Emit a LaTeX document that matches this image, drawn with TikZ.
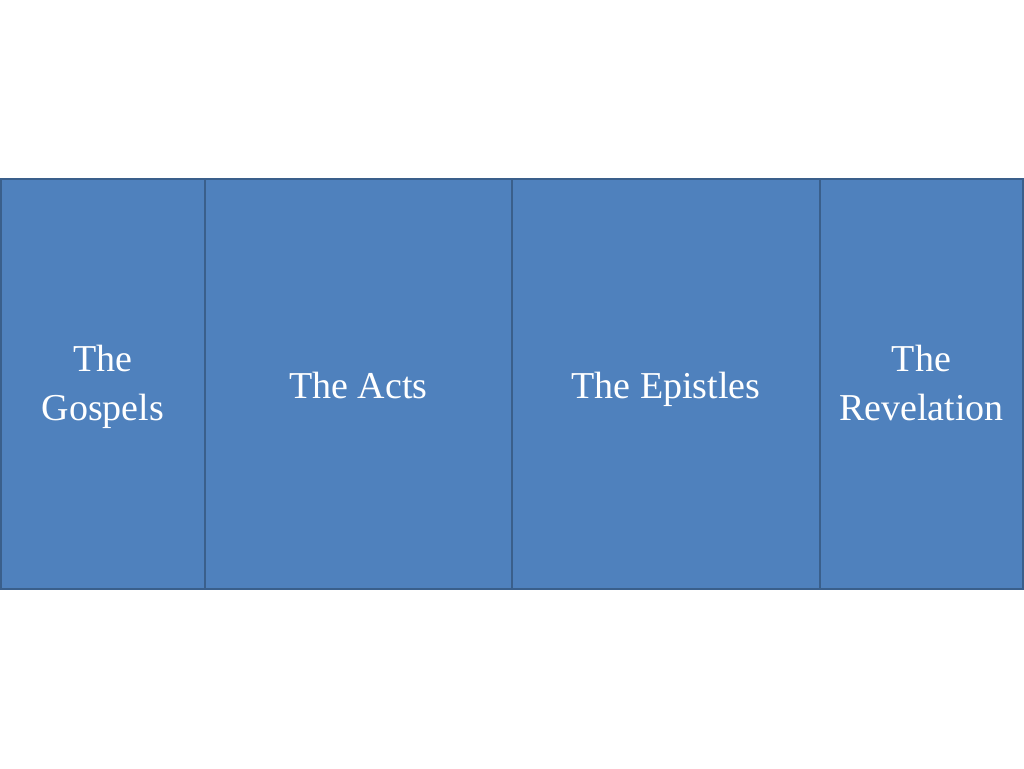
\documentclass[tikz,border=0pt]{standalone}
\usepackage{fontspec}
\setmainfont{Liberation Serif}
\definecolor{boxfill}{HTML}{4F81BD}
\definecolor{boxline}{HTML}{3A5F8B}
\begin{document}
\begin{tikzpicture}[x=1pt,y=1pt,
  panel/.style={draw=boxline,fill=boxfill,line width=2pt,minimum height=410pt,
    inner sep=0pt,outer sep=0pt,anchor=south west},
  label/.style={text=white,inner sep=0pt,anchor=base,
    font=\fontsize{38}{48}\selectfont}]
\useasboundingbox (0,0) rectangle (1024,768);
\fill[white] (0,0) rectangle (1024,768);
\node[panel,minimum width=204pt] (g) at (1,179) {};
\node[panel,minimum width=307pt] (a) at (205,179) {};
\node[panel,minimum width=308pt] (e) at (512,179) {};
\node[panel,minimum width=203pt] (r) at (820,179) {};
\node[label] (g1) at (g.center |- 0,396) {The};
\node[label] (g2) at (g.center |- 0,347) {Gospels};
\node[label] (a1) at (a.center |- 0,369) {The Acts};
\node[label] (e1) at (e.center |- 0,369) {The Epistles};
\node[label] (r1) at (r.center |- 0,396) {The};
\node[label] (r2) at (r.center |- 0,347) {Revelation};
\end{tikzpicture}
\end{document}
